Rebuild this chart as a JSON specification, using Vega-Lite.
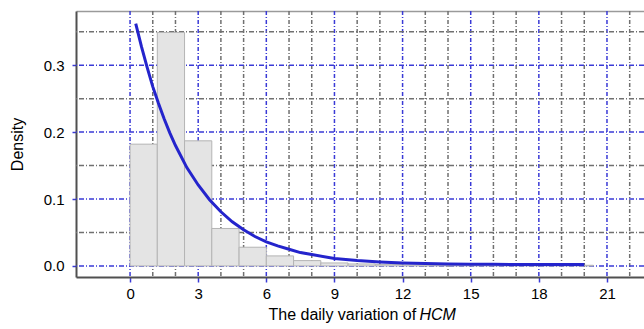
{
  "$schema": "https://vega.github.io/schema/vega-lite/v6.json",
  "width": 568,
  "height": 266,
  "autosize": "none",
  "padding": {"left": 76, "top": 11, "right": 0, "bottom": 52},
  "background": "white",
  "config": {
    "view": {"stroke": null},
    "axis": {
      "labelFont": "Liberation Sans",
      "titleFont": "Liberation Sans",
      "labelFontSize": 15,
      "titleFontSize": 16,
      "labelColor": "#000000",
      "titleColor": "#000000",
      "titleFontWeight": "normal"
    }
  },
  "datasets": {
    "gridx": [
      {"v": 0, "kind": "major"}, {"v": 1, "kind": "minor"}, {"v": 2, "kind": "minor"},
      {"v": 3, "kind": "major"}, {"v": 4, "kind": "minor"}, {"v": 5, "kind": "minor"},
      {"v": 6, "kind": "major"}, {"v": 7, "kind": "minor"}, {"v": 8, "kind": "minor"},
      {"v": 9, "kind": "major"}, {"v": 10, "kind": "minor"}, {"v": 11, "kind": "minor"},
      {"v": 12, "kind": "major"}, {"v": 13, "kind": "minor"}, {"v": 14, "kind": "minor"},
      {"v": 15, "kind": "major"}, {"v": 16, "kind": "minor"}, {"v": 17, "kind": "minor"},
      {"v": 18, "kind": "major"}, {"v": 19, "kind": "minor"}, {"v": 20, "kind": "minor"},
      {"v": 21, "kind": "major"}, {"v": 22, "kind": "minor"}
    ],
    "gridy": [
      {"v": 0.0, "kind": "major"}, {"v": 0.05, "kind": "minor"},
      {"v": 0.1, "kind": "major"}, {"v": 0.15, "kind": "minor"},
      {"v": 0.2, "kind": "major"}, {"v": 0.25, "kind": "minor"},
      {"v": 0.3, "kind": "major"}, {"v": 0.35, "kind": "minor"}
    ],
    "bars": [
      {"bin_start": 0.0, "bin_end": 1.2, "density": 0.182},
      {"bin_start": 1.2, "bin_end": 2.4, "density": 0.349},
      {"bin_start": 2.4, "bin_end": 3.6, "density": 0.187},
      {"bin_start": 3.6, "bin_end": 4.8, "density": 0.056},
      {"bin_start": 4.8, "bin_end": 6.0, "density": 0.028},
      {"bin_start": 6.0, "bin_end": 7.2, "density": 0.015},
      {"bin_start": 7.2, "bin_end": 8.4, "density": 0.008},
      {"bin_start": 8.4, "bin_end": 9.6, "density": 0.0045},
      {"bin_start": 9.6, "bin_end": 10.8, "density": 0.003},
      {"bin_start": 10.8, "bin_end": 12.0, "density": 0.002},
      {"bin_start": 12.0, "bin_end": 13.2, "density": 0.0015},
      {"bin_start": 13.2, "bin_end": 14.4, "density": 0.001},
      {"bin_start": 14.4, "bin_end": 15.6, "density": 0.001},
      {"bin_start": 15.6, "bin_end": 16.8, "density": 0.001},
      {"bin_start": 16.8, "bin_end": 18.0, "density": 0.001},
      {"bin_start": 18.0, "bin_end": 19.2, "density": 0.001},
      {"bin_start": 19.2, "bin_end": 20.4, "density": 0.001}
    ],
    "curve": [
      {"x": 0.25, "density": 0.362},
      {"x": 0.5, "density": 0.328},
      {"x": 0.75, "density": 0.297},
      {"x": 1.0, "density": 0.268},
      {"x": 1.25, "density": 0.243},
      {"x": 1.5, "density": 0.220},
      {"x": 1.75, "density": 0.199},
      {"x": 2.0, "density": 0.180},
      {"x": 2.5, "density": 0.147},
      {"x": 3.0, "density": 0.121},
      {"x": 3.5, "density": 0.099},
      {"x": 4.0, "density": 0.081},
      {"x": 4.5, "density": 0.066},
      {"x": 5.0, "density": 0.054},
      {"x": 5.5, "density": 0.044},
      {"x": 6.0, "density": 0.036},
      {"x": 6.5, "density": 0.030},
      {"x": 7.0, "density": 0.025},
      {"x": 7.5, "density": 0.020},
      {"x": 8.0, "density": 0.017},
      {"x": 9.0, "density": 0.011},
      {"x": 10.0, "density": 0.008},
      {"x": 11.0, "density": 0.006},
      {"x": 12.0, "density": 0.0045},
      {"x": 13.0, "density": 0.0035},
      {"x": 14.0, "density": 0.0028},
      {"x": 15.0, "density": 0.0025},
      {"x": 16.0, "density": 0.0024},
      {"x": 17.0, "density": 0.0023},
      {"x": 18.0, "density": 0.0022},
      {"x": 19.0, "density": 0.0021},
      {"x": 20.0, "density": 0.002}
    ]
  },
  "layer": [
    {
      "data": {"name": "gridx"},
      "mark": {"type": "rule", "strokeWidth": 1.5, "strokeDash": [4, 2, 1, 2]},
      "encoding": {
        "x": {
          "field": "v",
          "type": "quantitative",
          "scale": {"domain": [-2.38, 22.63], "nice": false, "zero": false},
          "axis": {
            "orient": "bottom",
            "values": [0, 3, 6, 9, 12, 15, 18, 21],
            "labelFlush": false,
            "labelOverlap": false,
            "grid": false,
            "tickSize": 5,
            "tickColor": "#3a3ad6",
            "tickWidth": 1.5,
            "domainColor": "#505050",
            "domainWidth": 2,
            "labelPadding": 4,
            "title": "The daily variation of",
            "titleAlign": "left",
            "titleX": 192,
            "titleY": 42,
            "titleBaseline": "alphabetic"
          }
        },
        "color": {
          "field": "kind",
          "type": "nominal",
          "scale": {"domain": ["major", "minor"], "range": ["#3a3ad6", "#707070"]},
          "legend": null
        }
      }
    },
    {
      "data": {"name": "gridy"},
      "mark": {"type": "rule", "strokeWidth": 1.5, "strokeDash": [5, 2, 1, 2]},
      "encoding": {
        "y": {
          "field": "v",
          "type": "quantitative",
          "scale": {"domain": [-0.0165, 0.381], "nice": false, "zero": false}
        },
        "color": {
          "field": "kind",
          "type": "nominal",
          "scale": {"domain": ["major", "minor"], "range": ["#3a3ad6", "#707070"]},
          "legend": null
        }
      }
    },
    {
      "data": {"name": "bars"},
      "mark": {"type": "bar", "fill": "#e4e4e4", "stroke": "#b4b4b4", "strokeWidth": 1},
      "encoding": {
        "x": {
          "field": "bin_start",
          "type": "quantitative",
          "scale": {"domain": [-2.38, 22.63], "nice": false, "zero": false},
          "axis": null
        },
        "x2": {"field": "bin_end"},
        "y": {
          "field": "density",
          "type": "quantitative",
          "scale": {"domain": [-0.0165, 0.381], "nice": false, "zero": false},
          "axis": {
            "title": "Density",
            "values": [0, 0.1, 0.2, 0.3],
            "format": ".1f",
            "labelOverlap": false,
            "labelFlush": false,
            "grid": false,
            "tickSize": 4,
            "tickColor": "#3a3ad6",
            "tickWidth": 1.5,
            "domainColor": "#505050",
            "domainWidth": 2,
            "labelPadding": 8,
            "titleX": -54,
            "titleBaseline": "alphabetic"
          }
        },
        "y2": {"datum": 0}
      }
    },
    {
      "data": {"name": "curve"},
      "mark": {"type": "line", "color": "#2424cc", "strokeWidth": 3},
      "encoding": {
        "x": {
          "field": "x",
          "type": "quantitative",
          "scale": {"domain": [-2.38, 22.63], "nice": false, "zero": false},
          "axis": {
            "orient": "top",
            "labels": false,
            "ticks": false,
            "grid": false,
            "domainColor": "#9a9a9a",
            "domainWidth": 1.5,
            "title": "HCM",
            "titleFontStyle": "italic",
            "titleAlign": "left",
            "titleX": 343,
            "titleY": 308,
            "titleBaseline": "alphabetic"
          }
        },
        "y": {
          "field": "density",
          "type": "quantitative",
          "scale": {"domain": [-0.0165, 0.381], "nice": false, "zero": false}
        }
      }
    }
  ],
  "resolve": {"axis": {"x": "independent"}}
}
